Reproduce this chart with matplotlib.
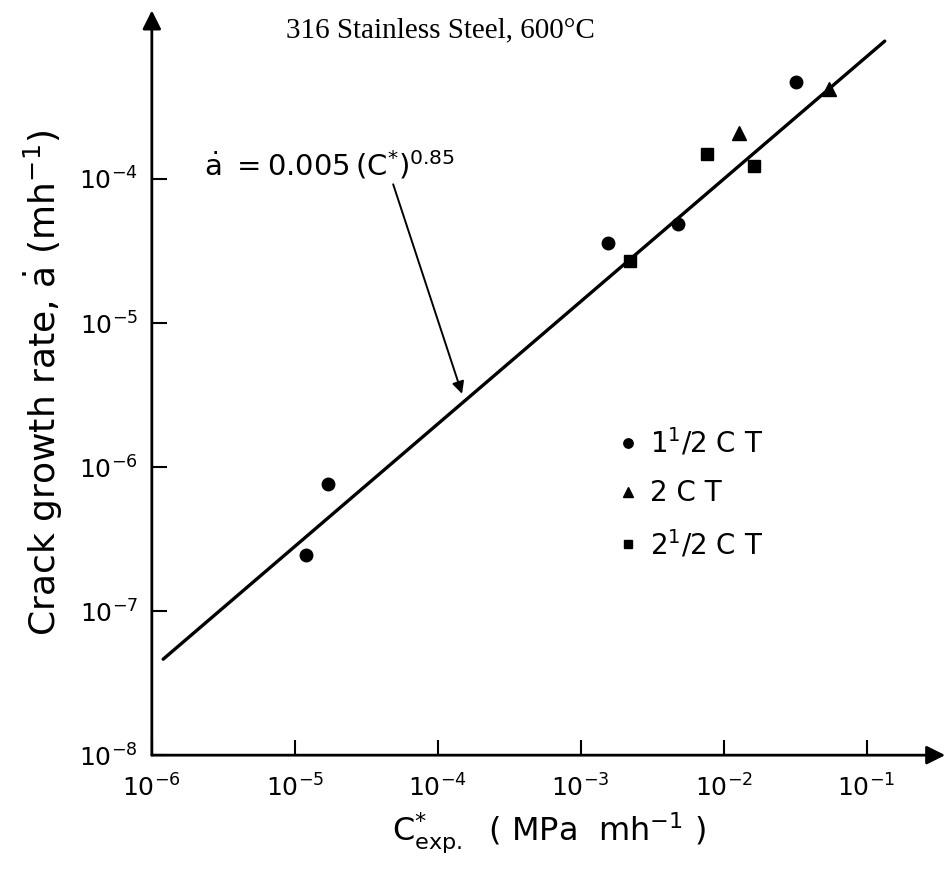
import numpy as np
import matplotlib
matplotlib.use("Agg")
import matplotlib.pyplot as plt

# data (log-log)
ct15_x = [1.2e-5, 1.7e-5, 1.55e-3, 4.8e-3, 3.2e-2]
ct15_y = [2.45e-7, 7.6e-7, 3.6e-5, 4.9e-5, 4.7e-4]
ct2_x = [1.28e-2, 5.5e-2]
ct2_y = [2.1e-4, 4.2e-4]
ct25_x = [2.2e-3, 7.6e-3, 1.63e-2]
ct25_y = [2.7e-5, 1.48e-4, 1.23e-4]

fit_coef = 0.005
fit_exp = 0.85
fit_range = [1.2e-6, 0.134]

xticks = [1e-6, 1e-5, 1e-4, 1e-3, 1e-2, 1e-1]
yticks = [1e-8, 1e-7, 1e-6, 1e-5, 1e-4]

fig = plt.figure(figsize=(9.49, 8.69), dpi=100)
ax = fig.add_axes([0.160, 0.131, 0.836, 0.857])
ax.set_xscale("log")
ax.set_yscale("log")
ax.set_xlim(1e-6, 10 ** -0.45)
ax.set_ylim(1e-8, 10 ** -2.83)

for s in ax.spines.values():
    s.set_visible(False)
# axes drawn as arrows
ax.annotate("", xy=(1, 0), xytext=(0, 0), xycoords="axes fraction",
            arrowprops=dict(arrowstyle="-|>", lw=2, color="k", mutation_scale=28,
                            shrinkA=0, shrinkB=0))
ax.annotate("", xy=(0, 1), xytext=(0, 0), xycoords="axes fraction",
            arrowprops=dict(arrowstyle="-|>", lw=2, color="k", mutation_scale=28,
                            shrinkA=0, shrinkB=0))

ax.set_xticks(xticks)
ax.set_yticks(yticks)
ax.minorticks_off()
ax.tick_params(axis="both", direction="in", length=11, width=1.5, labelsize=18)
ax.tick_params(axis="x", pad=14)
ax.tick_params(axis="y", pad=10)

# fit line
xf = np.array(fit_range)
ax.plot(xf, fit_coef * xf ** fit_exp, color="k", lw=2.4, solid_capstyle="round")

ax.plot(ct15_x, ct15_y, "o", color="k", ms=9, label=r"$\mathregular{1^{1}/2}$ C T")
ax.plot(ct2_x, ct2_y, "^", color="k", ms=10, label="2 C T")
ax.plot(ct25_x, ct25_y, "s", color="k", ms=8, label=r"$\mathregular{2^{1}/2}$ C T")

ax.legend(loc="upper left", bbox_to_anchor=(0.640, 0.525), bbox_transform=fig.transFigure,
          frameon=False, fontsize=20, handlelength=0.5, handletextpad=0.55,
          labelspacing=0.75, borderpad=0, markerscale=0.75)

ax.annotate(r"$\dot{\mathrm{a}}\ =0.005\,(\mathrm{C}^{*})^{0.85}$",
            xy=(1.5e-4, fit_coef * 1.5e-4 ** fit_exp * 1.1), xytext=(1.75e-5, 9.6e-5),
            fontsize=21, ha="center", va="bottom",
            arrowprops=dict(arrowstyle="-|>", lw=1.4, color="k", mutation_scale=18,
                            shrinkA=0, shrinkB=2, relpos=(0.75, 0)))

fig.text(0.464, 0.965, "316 Stainless Steel, 600°C", family="Liberation Serif",
         fontsize=21, ha="center", va="center")

ax.set_xlabel(r"$\mathregular{C^{*}_{exp.}}$  ( MPa  mh$^{\mathregular{-1}}$ )", fontsize=23, labelpad=6)
ax.set_ylabel(r"Crack growth rate, $\dot{\mathrm{a}}$ (mh$^{\mathregular{-1}}$)", fontsize=26, labelpad=10)

fig.savefig("out.png", dpi=100)
